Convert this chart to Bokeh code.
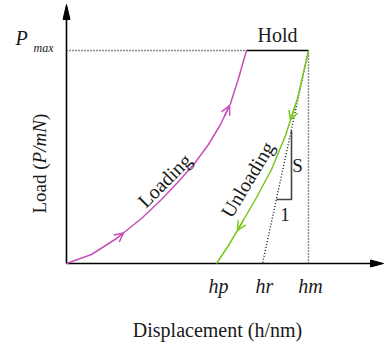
import numpy as np
from bokeh.plotting import figure
from bokeh.models import Range1d, Arrow, OpenHead
from bokeh.core.properties import value
from bokeh.embed import file_html
from bokeh.resources import INLINE

# ---- data (schematic units: displacement h, load P) ----
load_h = [0, 25, 50, 75, 95, 112, 128, 142, 154, 164, 172, 180]
load_P = [0, 9, 25, 45, 64, 82, 100, 119, 139, 160, 185, 213]
unload_h = [242, 231, 219, 205, 190, 175, 162, 150]
unload_P = [213, 165, 128, 94, 66, 40, 18, 0]
P_max = 213
h_hold_start = 180
h_m = 242
h_r = 196
h_p = 150
tick_values = [h_p, h_r, h_m]
tick_labels = ["hp", "hr", "hm"]
x_axis_end = 317
y_axis_end = 259

FONT = value("Liberation Serif")
MAG = "#c94fb8"
GRN = "#77c81c"
INK = "#1a1a1a"

p = figure(width=384, height=345, output_backend="svg", toolbar_location=None,
           x_range=Range1d(-66, 318), y_range=Range1d(-82, 263),
           x_axis_type=None, y_axis_type=None, min_border=0)
p.grid.visible = False
p.outline_line_color = None
p.background_fill_color = "white"
p.border_fill_color = "white"

# axes with arrow heads
p.segment(x0=[0, 0], y0=[0, 0], x1=[x_axis_end - 12, 0], y1=[0, y_axis_end - 14],
          line_color="black", line_width=1.6)
p.patch(x=[x_axis_end, x_axis_end - 13, x_axis_end - 13], y=[0, 3.5, -3.5], color="black")
p.patch(x=[0, -3.5, 3.5], y=[y_axis_end, y_axis_end - 15, y_axis_end - 15], color="black")

# dotted guides
dash = "1 2"
p.line(x=[0, h_hold_start], y=[P_max, P_max], line_dash=dash, line_color=INK, line_width=1.4)
p.line(x=[h_m, h_m], y=[0, P_max], line_dash=dash, line_color=INK, line_width=1.4)
p.line(x=[h_m, h_r], y=[P_max, 0], line_dash=dash, line_color=INK, line_width=1.4)

# hold segment
p.line(x=[h_hold_start, h_m], y=[P_max, P_max], line_color="black", line_width=1.6)

# curves
p.line(x=load_h, y=load_P, line_color=MAG, line_width=1.5)
p.line(x=unload_h, y=unload_P, line_color=GRN, line_width=1.5)

def curve_arrow(hs, Ps, back_h, tip_h, color):
    hs = np.asarray(hs, float); Ps = np.asarray(Ps, float)
    order = np.argsort(hs)
    y0 = float(np.interp(back_h, hs[order], Ps[order]))
    y1 = float(np.interp(tip_h, hs[order], Ps[order]))
    p.add_layout(Arrow(end=OpenHead(size=9, line_color=color, line_width=1.5),
                       x_start=back_h, y_start=y0, x_end=tip_h, y_end=y1,
                       line_color=color, line_width=1.5))

curve_arrow(load_h, load_P, 50, 57, MAG)
curve_arrow(load_h, load_P, 158, 163, MAG)
curve_arrow(unload_h, unload_P, 229, 224, GRN)
curve_arrow(unload_h, unload_P, 177, 171, GRN)

# stiffness triangle
s_h0, s_h1, s_P0, s_P1 = 210, 225, 64, 133
p.line(x=[s_h1, s_h1, s_h0], y=[s_P1, s_P0, s_P0], line_color="#444444", line_width=1.6)

# texts
p.text(x=[s_h1 + 6], y=[(s_P0 + s_P1) / 2], text=["S"], text_font=FONT, text_font_size="19px",
       text_align="center", text_baseline="middle", text_color=INK)
p.text(x=[(s_h0 + s_h1) / 2 + 1], y=[s_P0 - 15], text=["1"], text_font=FONT, text_font_size="19px",
       text_align="center", text_baseline="middle", text_color=INK)

p.text(x=[(h_hold_start + h_m) / 2], y=[P_max + 16], text=["Hold"], text_font=FONT,
       text_font_size="20px", text_align="center", text_baseline="alphabetic", text_color=INK)

p.text(x=[t + 2 for t in tick_values], y=[-22] * 3, text=tick_labels, text_font=FONT,
       text_font_size="20px", text_font_style="italic", text_align="center",
       text_baseline="alphabetic", text_color=INK)

p.text(x=[151], y=[-66], text=["Displacement (h/nm)"], text_font=FONT, text_font_size="20px",
       text_align="center", text_baseline="alphabetic", text_color=INK)

# P_max label
p.text(x=[-51], y=[P_max + 13], text=["P"], text_font=FONT, text_font_size="20px",
       text_font_style="italic", text_align="left", text_baseline="alphabetic", text_color=INK)
p.text(x=[-33], y=[P_max + 3], text=["max"], text_font=FONT, text_font_size="12px",
       text_font_style="italic", text_align="left", text_baseline="alphabetic", text_color=INK)

# y label: Load (P/mN), rotated, mixed styles
ypos = 50
for piece, style, w in [("Load (", "normal", 50.1), ("P/mN", "italic", 43.3), (")", "normal", 6.3)]:
    p.text(x=[-27], y=[ypos], text=[piece], text_font=FONT, text_font_size="19px",
           text_font_style=style, text_align="left", text_baseline="alphabetic",
           angle=np.pi / 2, text_color=INK)
    ypos += w

# curve labels
p.text(x=[98], y=[83], text=["Loading"], text_font=FONT, text_font_size="20px",
       text_align="center", text_baseline="middle", angle=np.radians(45), text_color=INK)
p.text(x=[181], y=[84], text=["Unloading"], text_font=FONT, text_font_size="20px",
       text_align="center", text_baseline="middle", angle=np.radians(59), text_color=INK)

open("out.html", "w").write(file_html(p, INLINE))
